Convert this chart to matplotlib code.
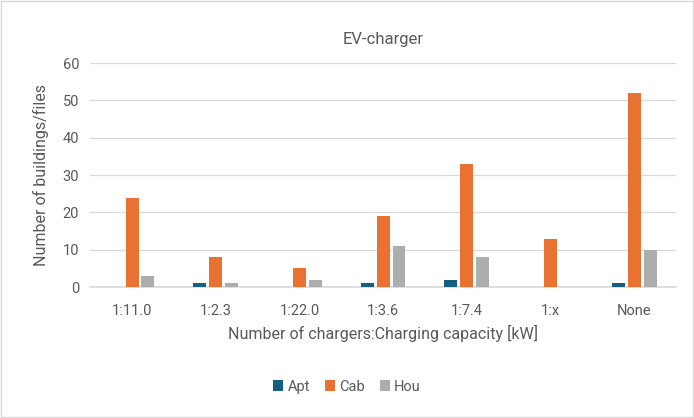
import numpy as np
import matplotlib.pyplot as plt

plt.rcParams['font.family'] = ['Roboto', 'DejaVu Sans']

categories = ['1:11.0', '1:2.3', '1:22.0', '1:3.6', '1:7.4', '1:x', 'None']
apt = [0, 1, 0, 1, 2, 0, 1]
cab = [24, 8, 5, 19, 33, 13, 52]
hou = [3, 1, 2, 11, 8, 0, 10]

series = [('Apt', apt, '#156082'), ('Cab', cab, '#E97132'), ('Hou', hou, '#ADADAD')]

text_col = '#595959'
fig = plt.figure(figsize=(6.94, 4.18), dpi=100)
ax = fig.add_axes([0.130, 0.313, 0.844, 0.536])

x = np.arange(len(categories))
w = 0.155
step = 0.19
for i, (name, vals, col) in enumerate(series):
    ax.bar(x + (i - 1) * step, vals, width=w, color=col, label=name, zorder=3)

ax.set_xlim(-0.5, len(categories) - 0.5)
ax.set_ylim(0, 60)
ax.set_yticks(range(0, 61, 10))
ax.set_xticks(x)
ax.set_xticklabels(categories)
ax.grid(axis='y', color='#D9D9D9', lw=0.9, zorder=0)
for s in ['top', 'right', 'left']:
    ax.spines[s].set_visible(False)
ax.spines['bottom'].set_color('#D9D9D9')
ax.spines['bottom'].set_linewidth(1.2)
ax.tick_params(length=0, labelsize=10.5, colors=text_col)
ax.tick_params(axis='x', pad=12)
ax.tick_params(axis='y', pad=8)

ax.set_title('EV-charger', fontsize=12, color=text_col, pad=14)
ax.set_ylabel('Number of buildings/files', fontsize=11.5, color=text_col, labelpad=10)
ax.set_xlabel('Number of chargers:Charging capacity [kW]', fontsize=11.5, color=text_col, labelpad=5)

fig.legend(loc='center', bbox_to_anchor=(0.5, 0.075), ncol=3, frameon=False,
           fontsize=10.5, labelcolor=text_col, handlelength=0.7, handleheight=0.7,
           handletextpad=0.3, columnspacing=1.0)

fig.patches.append(plt.Rectangle((0.002, 0.002), 0.996, 0.996, transform=fig.transFigure,
                                 fill=False, edgecolor='#D9D9D9', lw=1))

fig.savefig('out.png', dpi=100)
